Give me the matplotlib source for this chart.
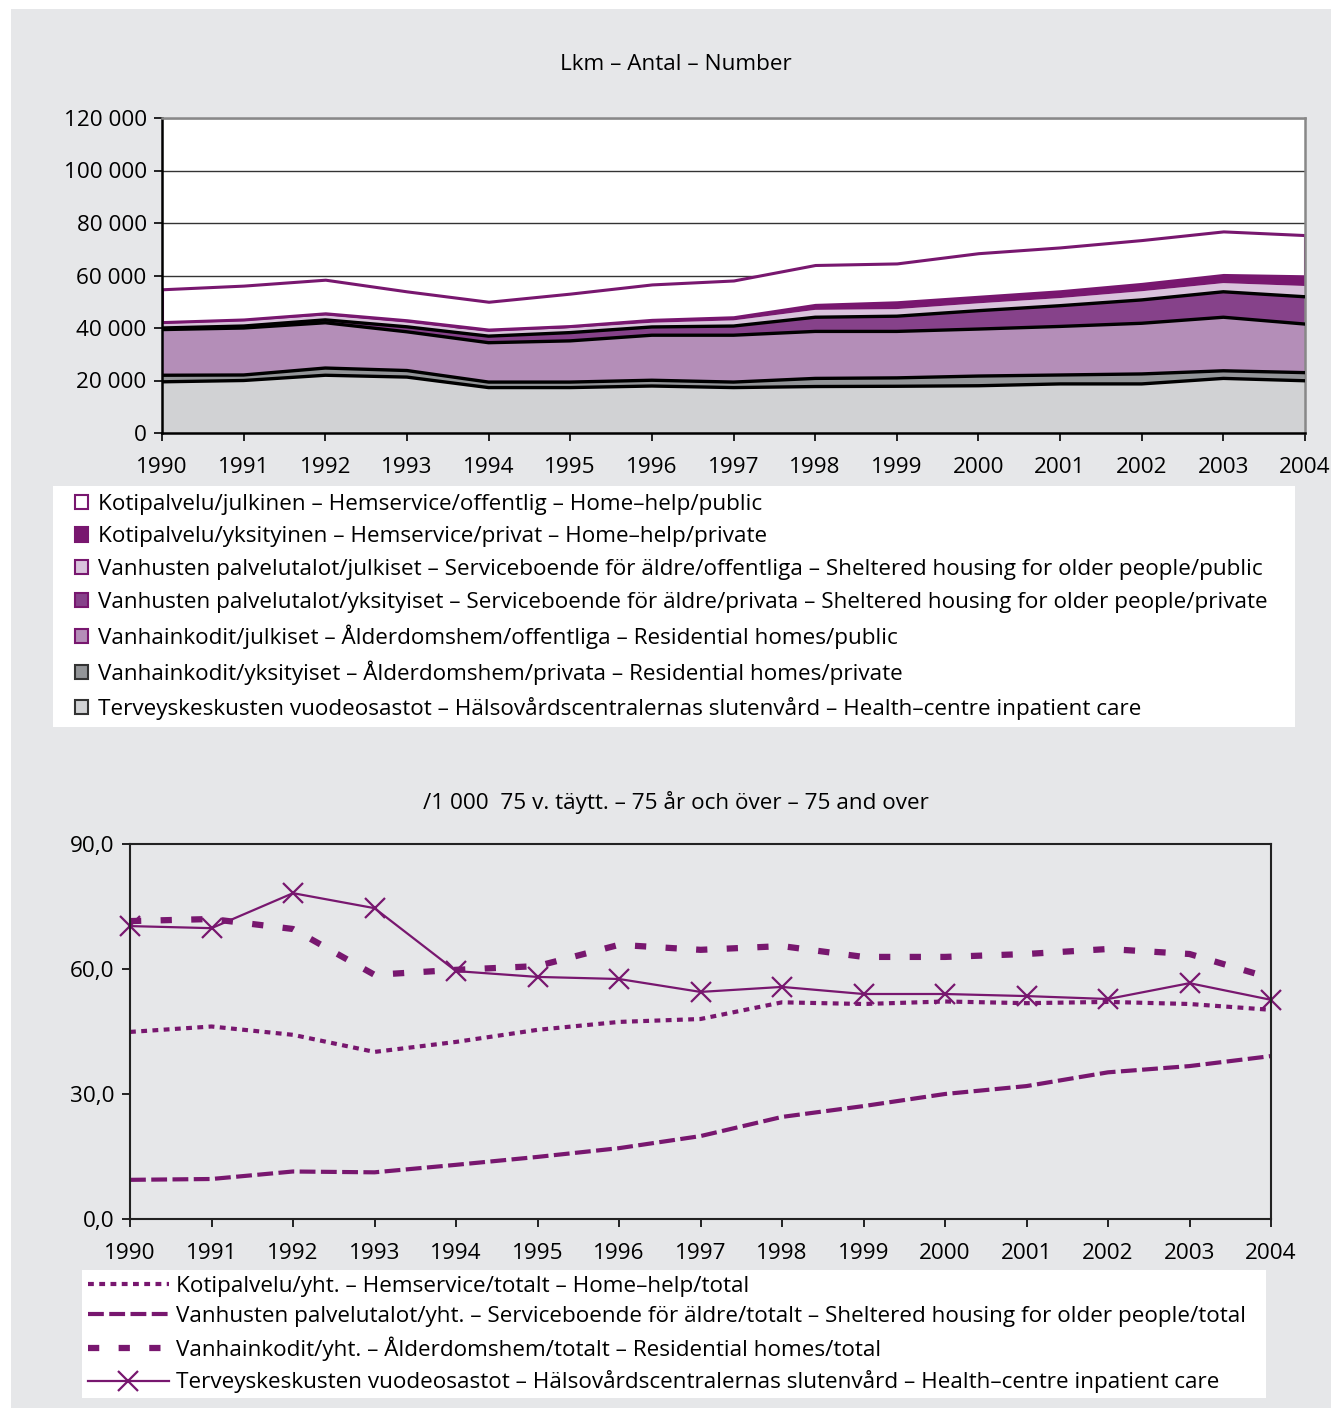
import matplotlib
matplotlib.use("Agg")
import matplotlib.pyplot as plt
from matplotlib.patches import Patch, Rectangle
from matplotlib.ticker import FuncFormatter

plt.rcParams['font.family'] = ['Open Sans', 'DejaVu Sans']

years = list(range(1990, 2005))

# Lkm - Antal - Number (stacked, bottom to top)
health = [19500, 20000, 22000, 21300, 17300, 17300, 17900, 17300, 17700, 17800, 18000, 18700, 18700, 20800, 19900]
res_priv = [2500, 2100, 2750, 2500, 2100, 2100, 2200, 2100, 3100, 3200, 3700, 3400, 3800, 2900, 3100]
res_pub = [17400, 17900, 17250, 14750, 15000, 15700, 17150, 17850, 17900, 17700, 17900, 18500, 19300, 20400, 18500]
shel_priv = [600, 750, 1100, 1900, 2500, 3150, 3150, 3500, 5400, 5800, 7000, 7900, 8900, 9700, 10400]
shel_pub = [1600, 1850, 1650, 1600, 1600, 1750, 1600, 2150, 2800, 2700, 2800, 2900, 3300, 3300, 4100]
hh_priv = [650, 650, 850, 900, 900, 750, 1100, 1200, 1900, 2600, 2500, 2600, 2800, 3100, 3700]
hh_pub = [12500, 12900, 12800, 11000, 10600, 12350, 13500, 14000, 15200, 14800, 16600, 16700, 16700, 16600, 15700]

top_labels = [
    "Kotipalvelu/julkinen – Hemservice/offentlig – Home–help/public",
    "Kotipalvelu/yksityinen – Hemservice/privat – Home–help/private",
    "Vanhusten palvelutalot/julkiset – Serviceboende för äldre/offentliga – Sheltered housing for older people/public",
    "Vanhusten palvelutalot/yksityiset – Serviceboende för äldre/privata – Sheltered housing for older people/private",
    "Vanhainkodit/julkiset – Ålderdomshem/offentliga – Residential homes/public",
    "Vanhainkodit/yksityiset – Ålderdomshem/privata – Residential homes/private",
    "Terveyskeskusten vuodeosastot – Hälsovårdscentralernas slutenvård – Health–centre inpatient care",
]

# /1 000 75 v. täytt.
hh_total = [44.9, 46.2, 44.2, 40.1, 42.5, 45.4, 47.3, 48.0, 52.0, 51.6, 52.2, 51.8, 52.1, 51.6, 50.2]
shel_total = [9.4, 9.6, 11.4, 11.2, 13.0, 14.9, 17.0, 19.9, 24.5, 27.1, 30.0, 31.9, 35.2, 36.7, 39.1]
res_total = [71.5, 72.0, 69.6, 58.6, 59.8, 60.7, 65.8, 64.6, 65.5, 62.9, 62.9, 63.6, 64.8, 63.6, 57.8]
health_rate = [70.3, 69.8, 78.2, 74.6, 59.5, 58.1, 57.6, 54.5, 55.7, 54.0, 54.0, 53.5, 52.8, 56.6, 52.6]

bottom_labels = [
    "Kotipalvelu/yht. – Hemservice/totalt – Home–help/total",
    "Vanhusten palvelutalot/yht. – Serviceboende för äldre/totalt – Sheltered housing for older people/total",
    "Vanhainkodit/yht. – Ålderdomshem/totalt – Residential homes/total",
    "Terveyskeskusten vuodeosastot – Hälsovårdscentralernas slutenvård – Health–centre inpatient care",
]

PURPLE = "#78176F"
BG = "#E6E7E9"
fills = ["#D1D2D4", "#939598", "#B48EB8", "#86428A", "#D9C3DC", PURPLE, "white"]
FS = 16.2
W, H = 1331, 1408


def fig_box(x0, y0, x1, y1, color):
    # pixel box (from top-left) as a figure patch
    fig.patches.append(Rectangle((x0 / W, 1 - y1 / H), (x1 - x0) / W, (y1 - y0) / H,
                                 transform=fig.transFigure, facecolor=color,
                                 edgecolor="none", zorder=0))


fig = plt.figure(figsize=(13.31, 14.08), dpi=100, facecolor=BG)
fig_box(0, 0, W, 9, "white")
fig_box(0, 0, 11, H, "white")
fig_box(53, 486, 1295, 727, "white")
fig_box(82, 1270, 1266, 1398, "white")

# ---------- top chart ----------
ax1 = fig.add_axes([162 / W, 1 - 433 / H, (1305 - 162) / W, (433 - 118) / H])
ax1.set_facecolor("white")
layers = [health, res_priv, res_pub, shel_priv, shel_pub, hh_priv, hh_pub]
polys = ax1.stackplot(years, *layers, colors=fills, linewidth=0, zorder=2)
polys[-1].set_edgecolor(PURPLE)
polys[-1].set_linewidth(2.2)
cum = [0] * len(years)
for layer in layers[:4]:
    cum = [a + b for a, b in zip(cum, layer)]
    ax1.plot(years, cum, color="black", lw=2.4, zorder=3)
ax1.set_xlim(1990, 2004)
ax1.set_ylim(0, 120000)
ax1.set_yticks(range(0, 120001, 20000))
ax1.set_xticks(years)
ax1.yaxis.set_major_formatter(FuncFormatter(lambda v, p: f"{int(v):,}".replace(",", " ")))
ax1.grid(axis="y", color="#333333", lw=1.0, zorder=1)
ax1.set_axisbelow(True)
for s in ["left", "bottom"]:
    ax1.spines[s].set_color("black")
    ax1.spines[s].set_linewidth(1.8)
for s in ["top", "right"]:
    ax1.spines[s].set_color("#888888")
    ax1.spines[s].set_linewidth(1.8)
ax1.tick_params(length=6, width=1.2, labelsize=FS, direction="out")
ax1.tick_params(axis="x", pad=11)
ax1.tick_params(axis="y", pad=5)
fig.text(676 / W, 1 - 64 / H, "Lkm – Antal – Number", fontsize=FS, ha="center", va="center")

handles1 = []
edge1 = [PURPLE, PURPLE, PURPLE, PURPLE, PURPLE, "#333333", "#333333"]
for c, e in zip(fills[::-1], edge1):
    handles1.append(Patch(facecolor=c, edgecolor=e, linewidth=1.5))
leg1 = fig.legend(handles1, top_labels, loc="upper left",
                  bbox_to_anchor=(68 / W, 1 - 487 / H), frameon=False, fontsize=FS,
                  handlelength=0.6, handleheight=0.6, handletextpad=0.45,
                  labelspacing=0.52, borderpad=0.3, borderaxespad=0)

# ---------- bottom chart ----------
ax2 = fig.add_axes([130 / W, 1 - 1219 / H, (1271 - 130) / W, (1219 - 844) / H])
ax2.set_facecolor(BG)
l1, = ax2.plot(years, hh_total, color=PURPLE, lw=3.0, dashes=(1.4, 1.3))
l2, = ax2.plot(years, shel_total, color=PURPLE, lw=3.0, dashes=(3.8, 1.3))
l3, = ax2.plot(years, res_total, color=PURPLE, lw=4.5, dashes=(1.8, 3.1))
l4, = ax2.plot(years, health_rate, color=PURPLE, lw=1.6, marker="x", markersize=15, markeredgewidth=1.6,
               clip_on=False)
ax2.set_xlim(1990, 2004)
ax2.set_ylim(0, 90)
ax2.set_yticks([0, 30, 60, 90])
ax2.set_xticks(years)
ax2.yaxis.set_major_formatter(FuncFormatter(lambda v, p: f"{v:.1f}".replace(".", ",")))
for s in ax2.spines.values():
    s.set_color("#222222")
    s.set_linewidth(1.5)
ax2.tick_params(length=6, width=1.2, labelsize=FS, direction="out")
ax2.tick_params(axis="x", pad=11)
ax2.tick_params(axis="y", pad=5)
fig.text(676 / W, 1 - 802 / H, "/1 000  75 v. täytt. – 75 år och över – 75 and over",
         fontsize=FS, ha="center", va="center")

leg2 = fig.legend([l1, l2, l3, l4], bottom_labels, loc="upper left",
                  bbox_to_anchor=(82 / W, 1 - 1270 / H), frameon=False, fontsize=FS,
                  handlelength=3.6, handletextpad=0.35, labelspacing=0.42,
                  borderpad=0.25, borderaxespad=0, numpoints=1)

fig.savefig("out.png", dpi=100, facecolor=BG)
